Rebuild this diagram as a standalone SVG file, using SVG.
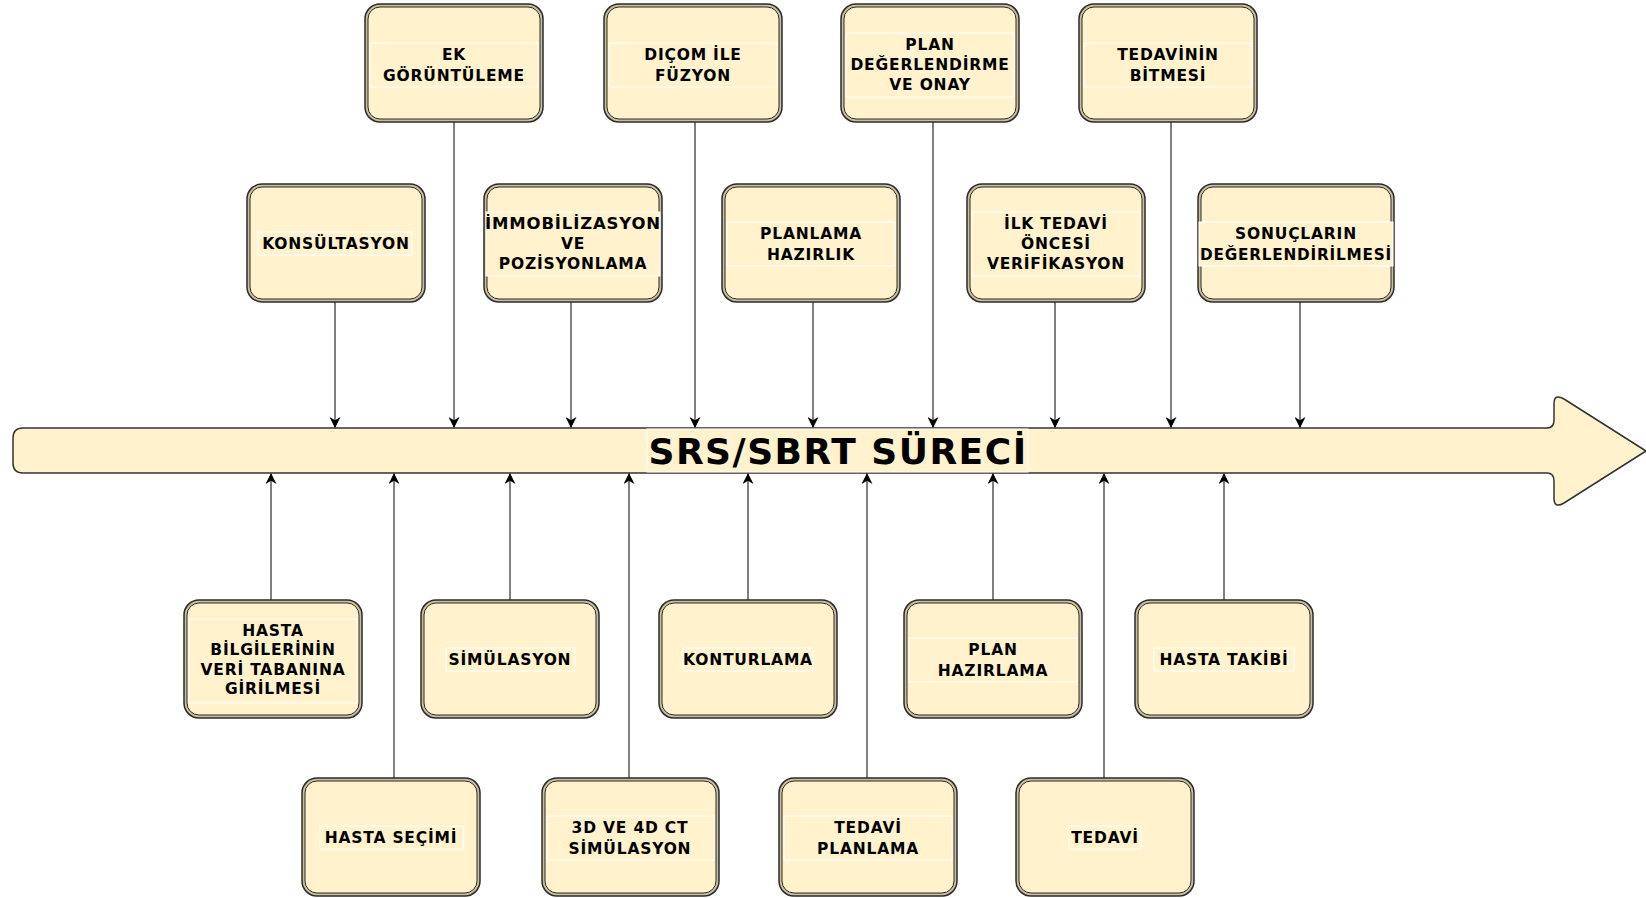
<svg xmlns="http://www.w3.org/2000/svg" width="1646" height="898" viewBox="0 0 1646 898">
<style>
.bo{fill:#c9bd9c;stroke:#2b2b2b;stroke-width:1.5}
.bi{fill:#fff2cc;stroke:#2b2b2b;stroke-width:1}
.lb{fill:#fff2cc;stroke:#ffffff;stroke-width:1}
.t{font-family:"DejaVu Sans",sans-serif;font-weight:bold;font-size:15.5px;letter-spacing:0.8px;fill:#000;text-anchor:middle}
.c{stroke:#555;stroke-width:1.5;fill:none;marker-end:url(#ah)}
.big{font-family:"DejaVu Sans",sans-serif;font-weight:bold;font-size:36px;letter-spacing:1.5px;fill:#000;text-anchor:middle}
</style>
<defs>
<marker id="ah" viewBox="0 0 10 10" refX="10" refY="5" markerWidth="11" markerHeight="11" markerUnits="userSpaceOnUse" orient="auto"><path d="M0,0 L10,5 L0,10 L3,5 Z" fill="#000"/></marker>
</defs>
<rect width="1646" height="898" fill="#fff"/>
<g id="main-arrow">
<path d="M23,428 H1547 Q1554,428 1554,420 V404 Q1554,393 1564,399 L1646,451 L1564,503 Q1554,509 1554,498 V481 Q1554,473 1547,473 H23 Q13,473 13,463 V438 Q13,428 23,428 Z" fill="#fff2cc" stroke="#333" stroke-width="1.5"/>
<rect class="lb" x="647" y="429" width="381" height="43"/>
<text class="big" x="838" y="464">SRS/SBRT SÜRECİ</text>
</g>
<g id="connectors">
<line class="c" x1="454" y1="122" x2="454" y2="428"/>
<line class="c" x1="695" y1="122" x2="695" y2="428"/>
<line class="c" x1="933" y1="122" x2="933" y2="428"/>
<line class="c" x1="1171" y1="122" x2="1171" y2="428"/>
<line class="c" x1="335" y1="302" x2="335" y2="428"/>
<line class="c" x1="571" y1="302" x2="571" y2="428"/>
<line class="c" x1="813" y1="302" x2="813" y2="428"/>
<line class="c" x1="1055" y1="302" x2="1055" y2="428"/>
<line class="c" x1="1300" y1="302" x2="1300" y2="428"/>
<line class="c" x1="271" y1="600" x2="271" y2="473"/>
<line class="c" x1="510" y1="600" x2="510" y2="473"/>
<line class="c" x1="748" y1="600" x2="748" y2="473"/>
<line class="c" x1="993" y1="600" x2="993" y2="473"/>
<line class="c" x1="1224" y1="600" x2="1224" y2="473"/>
<line class="c" x1="394" y1="778" x2="394" y2="473"/>
<line class="c" x1="629" y1="778" x2="629" y2="473"/>
<line class="c" x1="867" y1="778" x2="867" y2="473"/>
<line class="c" x1="1104" y1="778" x2="1104" y2="473"/>
</g>
<g id="n-ek">
<rect class="bo" x="365" y="4" width="178" height="118" rx="15"/><rect class="bi" x="368" y="7" width="172" height="112" rx="12"/>
<rect class="lb" x="370" y="43" width="168" height="44"/>
<text class="t" x="454" y="60">EK</text><text class="t" x="454" y="81">GÖRÜNTÜLEME</text>
</g>
<g id="n-dicom">
<rect class="bo" x="604" y="4" width="178" height="118" rx="15"/><rect class="bi" x="607" y="7" width="172" height="112" rx="12"/>
<rect class="lb" x="609" y="43" width="168" height="44"/>
<text class="t" x="693" y="60">DIÇOM İLE</text><text class="t" x="693" y="81">FÜZYON</text>
</g>
<g id="n-plandeg">
<rect class="bo" x="841" y="4" width="178" height="118" rx="15"/><rect class="bi" x="844" y="7" width="172" height="112" rx="12"/>
<rect class="lb" x="846" y="33" width="168" height="64"/>
<text class="t" x="930" y="50">PLAN</text><text class="t" x="930" y="70">DEĞERLENDİRME</text><text class="t" x="930" y="90">VE ONAY</text>
</g>
<g id="n-bitmesi">
<rect class="bo" x="1079" y="4" width="178" height="118" rx="15"/><rect class="bi" x="1082" y="7" width="172" height="112" rx="12"/>
<rect class="lb" x="1084" y="43" width="168" height="44"/>
<text class="t" x="1168" y="60">TEDAVİNİN</text><text class="t" x="1168" y="81">BİTMESİ</text>
</g>
<g id="n-konsultasyon">
<rect class="bo" x="247" y="184" width="178" height="118" rx="15"/><rect class="bi" x="250" y="187" width="172" height="112" rx="12"/>
<rect class="lb" x="258" y="232" width="154" height="23"/>
<text class="t" x="336" y="249">KONSÜLTASYON</text>
</g>
<g id="n-immob">
<rect class="bo" x="484" y="184" width="178" height="118" rx="15"/><rect class="bi" x="487" y="187" width="172" height="112" rx="12"/>
<rect class="lb" x="486" y="212" width="174" height="64"/>
<text class="t" x="573" y="229" textLength="176" lengthAdjust="spacingAndGlyphs">İMMOBİLİZASYON</text><text class="t" x="573" y="249">VE</text><text class="t" x="573" y="269">POZİSYONLAMA</text>
</g>
<g id="n-planhaz">
<rect class="bo" x="722" y="184" width="178" height="118" rx="15"/><rect class="bi" x="725" y="187" width="172" height="112" rx="12"/>
<rect class="lb" x="727" y="222" width="168" height="44"/>
<text class="t" x="811" y="239">PLANLAMA</text><text class="t" x="811" y="260">HAZIRLIK</text>
</g>
<g id="n-ilk">
<rect class="bo" x="967" y="184" width="178" height="118" rx="15"/><rect class="bi" x="970" y="187" width="172" height="112" rx="12"/>
<rect class="lb" x="972" y="212" width="168" height="64"/>
<text class="t" x="1056" y="229">İLK TEDAVİ</text><text class="t" x="1056" y="249">ÖNCESİ</text><text class="t" x="1056" y="269">VERİFİKASYON</text>
</g>
<g id="n-sonuc">
<rect class="bo" x="1198" y="184" width="196" height="118" rx="15"/><rect class="bi" x="1201" y="187" width="190" height="112" rx="12"/>
<rect class="lb" x="1199" y="222" width="194" height="44"/>
<text class="t" x="1296" y="239">SONUÇLARIN</text><text class="t" x="1296" y="260" textLength="192" lengthAdjust="spacingAndGlyphs">DEĞERLENDİRİLMESİ</text>
</g>
<g id="n-hastabilgi">
<rect class="bo" x="184" y="600" width="178" height="118" rx="15"/><rect class="bi" x="187" y="603" width="172" height="112" rx="12"/>
<rect class="lb" x="189" y="619" width="168" height="84"/>
<text class="t" x="273" y="636">HASTA</text><text class="t" x="273" y="655">BİLGİLERİNİN</text><text class="t" x="273" y="675">VERİ TABANINA</text><text class="t" x="273" y="694">GİRİLMESİ</text>
</g>
<g id="n-simulasyon">
<rect class="bo" x="421" y="600" width="178" height="118" rx="15"/><rect class="bi" x="424" y="603" width="172" height="112" rx="12"/>
<rect class="lb" x="446" y="648" width="129" height="23"/>
<text class="t" x="510" y="665">SİMÜLASYON</text>
</g>
<g id="n-konturlama">
<rect class="bo" x="659" y="600" width="178" height="118" rx="15"/><rect class="bi" x="662" y="603" width="172" height="112" rx="12"/>
<rect class="lb" x="683" y="648" width="130" height="23"/>
<text class="t" x="748" y="665">KONTURLAMA</text>
</g>
<g id="n-planhazirlama">
<rect class="bo" x="904" y="600" width="178" height="118" rx="15"/><rect class="bi" x="907" y="603" width="172" height="112" rx="12"/>
<rect class="lb" x="909" y="638" width="168" height="44"/>
<text class="t" x="993" y="655">PLAN</text><text class="t" x="993" y="676">HAZIRLAMA</text>
</g>
<g id="n-takip">
<rect class="bo" x="1135" y="600" width="178" height="118" rx="15"/><rect class="bi" x="1138" y="603" width="172" height="112" rx="12"/>
<rect class="lb" x="1154" y="648" width="140" height="23"/>
<text class="t" x="1224" y="665">HASTA TAKİBİ</text>
</g>
<g id="n-secim">
<rect class="bo" x="302" y="778" width="178" height="118" rx="15"/><rect class="bi" x="305" y="781" width="172" height="112" rx="12"/>
<rect class="lb" x="320" y="826" width="143" height="23"/>
<text class="t" x="391" y="843">HASTA SEÇİMİ</text>
</g>
<g id="n-3d">
<rect class="bo" x="542" y="778" width="177" height="118" rx="15"/><rect class="bi" x="545" y="781" width="171" height="112" rx="12"/>
<rect class="lb" x="547" y="816" width="167" height="44"/>
<text class="t" x="630" y="833">3D VE 4D CT</text><text class="t" x="630" y="854">SİMÜLASYON</text>
</g>
<g id="n-tedaviplan">
<rect class="bo" x="779" y="778" width="178" height="118" rx="15"/><rect class="bi" x="782" y="781" width="172" height="112" rx="12"/>
<rect class="lb" x="784" y="816" width="168" height="44"/>
<text class="t" x="868" y="833">TEDAVİ</text><text class="t" x="868" y="854">PLANLAMA</text>
</g>
<g id="n-tedavi">
<rect class="bo" x="1016" y="778" width="178" height="118" rx="15"/><rect class="bi" x="1019" y="781" width="172" height="112" rx="12"/>
<rect class="lb" x="1069" y="826" width="72" height="23"/>
<text class="t" x="1105" y="843">TEDAVİ</text>
</g>
</svg>
